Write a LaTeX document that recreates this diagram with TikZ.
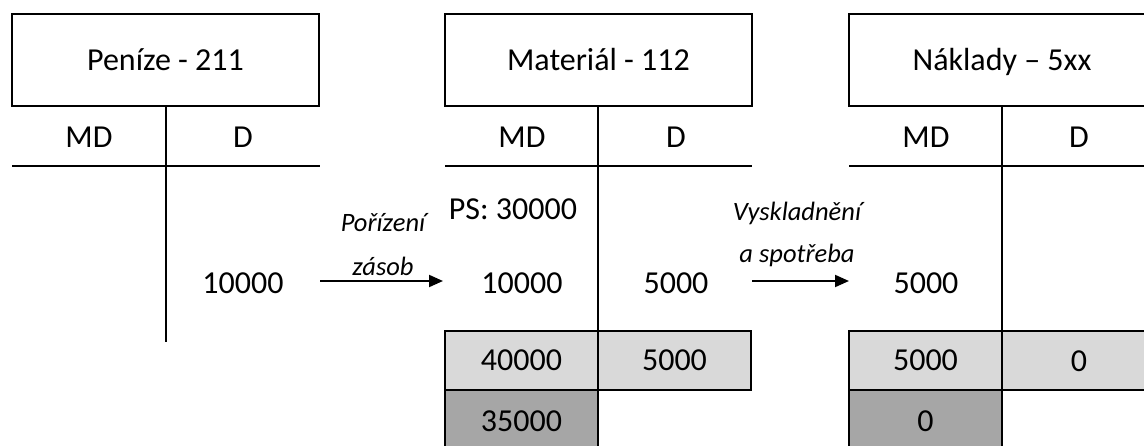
\documentclass[tikz,border=0pt]{standalone}
\usepackage{fontspec}
\setmainfont{Carlito}
\usetikzlibrary{arrows.meta}
\definecolor{lightcell}{HTML}{D9D9D9}
\definecolor{darkcell}{HTML}{A6A6A6}
\tikzset{
  ln/.style={line width=2pt,black},
  txt/.style={font=\fontsize{32}{38}\selectfont,inner sep=0pt},
  lbl/.style={font=\fontsize{26.5}{31}\selectfont\itshape,inner sep=0pt},
  titlebox/.style={draw,ln,minimum width=307pt,minimum height=92pt,inner sep=0pt,outer sep=0pt,anchor=north west,font=\fontsize{32}{38}\selectfont},
  cellL/.style={draw,ln,fill=lightcell,minimum width=153pt,minimum height=59pt,inner sep=0pt,outer sep=0pt,anchor=north west,font=\fontsize{32}{38}\selectfont},
  cellD/.style={draw,ln,fill=darkcell,minimum width=153pt,minimum height=62pt,inner sep=0pt,outer sep=0pt,anchor=north west,font=\fontsize{32}{38}\selectfont},
  flow/.style={ln,-{Triangle[length=14pt,width=12pt]}},
}
\begin{document}
\begin{tikzpicture}[x=1pt,y=-1pt]
\useasboundingbox (0,0) rectangle (1144,446);
\clip (0,0) rectangle (1144,446);
\fill[white] (0,0) rectangle (1144,446);

% Account 1: Penize
\node[titlebox] (t1) at (12,14) {Peníze - 211};
\coordinate (v1) at (166,106);
\coordinate (v1b) at (166,342);
\draw[ln] (v1) -- (v1b);
\coordinate (h1a) at (12,166);
\coordinate (h1b) at (320,166);
\draw[ln] (h1a) -- (h1b);
\node[txt] (md1) at (89,137) {MD};
\node[txt] (d1) at (243,137) {D};
\node[txt] (p1) at (243,283) {10000};

% Account 2: Material
\node[titlebox] (t2) at (445,14) {Materiál - 112};
\coordinate (h2a) at (445,166);
\coordinate (h2b) at (752,166);
\draw[ln] (h2a) -- (h2b);
\coordinate (v2) at (598,106);
\coordinate (v2b) at (598,331);
\draw[ln] (v2) -- (v2b);
\node[txt] (md2) at (522,137) {MD};
\node[txt] (d2) at (676,137) {D};
\node[txt] (ps2) at (513,209) {PS: 30000};
\node[txt] (m2a) at (522,283) {10000};
\node[txt] (m2b) at (676,283) {5000};
\node[cellL] (s2a) at (445,331) {40000};
\node[cellL] (s2b) at (598,331) {5000};
\node[cellD] (z2) at (445,390) {35000};

% Account 3: Naklady (cut off at the right edge)
\draw[ln] (849,14) rectangle (1170,106);
\node[txt] (t3) at (1002,62) {Náklady – 5xx};
\coordinate (h3a) at (849,166);
\coordinate (h3b) at (1170,166);
\draw[ln] (h3a) -- (h3b);
\coordinate (v3) at (1002,106);
\coordinate (v3b) at (1002,331);
\draw[ln] (v3) -- (v3b);
\node[txt] (md3) at (926,137) {MD};
\node[txt] (d3) at (1079,137) {D};
\node[txt] (n3a) at (926,283) {5000};
\node[cellL] (s3a) at (849,331) {5000};
\draw[ln,fill=lightcell] (1002,331) rectangle (1170,390);
\node[txt] (s3b) at (1079,361) {0};
\node[cellD] (z3) at (849,390) {0};

% Arrows
\coordinate (a1s) at (320,281);
\coordinate (a1e) at (443,281);
\draw[flow] (a1s) -- (a1e);
\node[lbl] (l1a) at (383,223) {Pořízení};
\node[lbl] (l1b) at (383,266) {zásob};

\coordinate (a2s) at (752,281);
\coordinate (a2e) at (849,281);
\draw[flow] (a2s) -- (a2e);
\node[lbl] (l2a) at (797,213) {Vyskladnění};
\node[lbl] (l2b) at (797,255) {a spotřeba};
\end{tikzpicture}
\end{document}
